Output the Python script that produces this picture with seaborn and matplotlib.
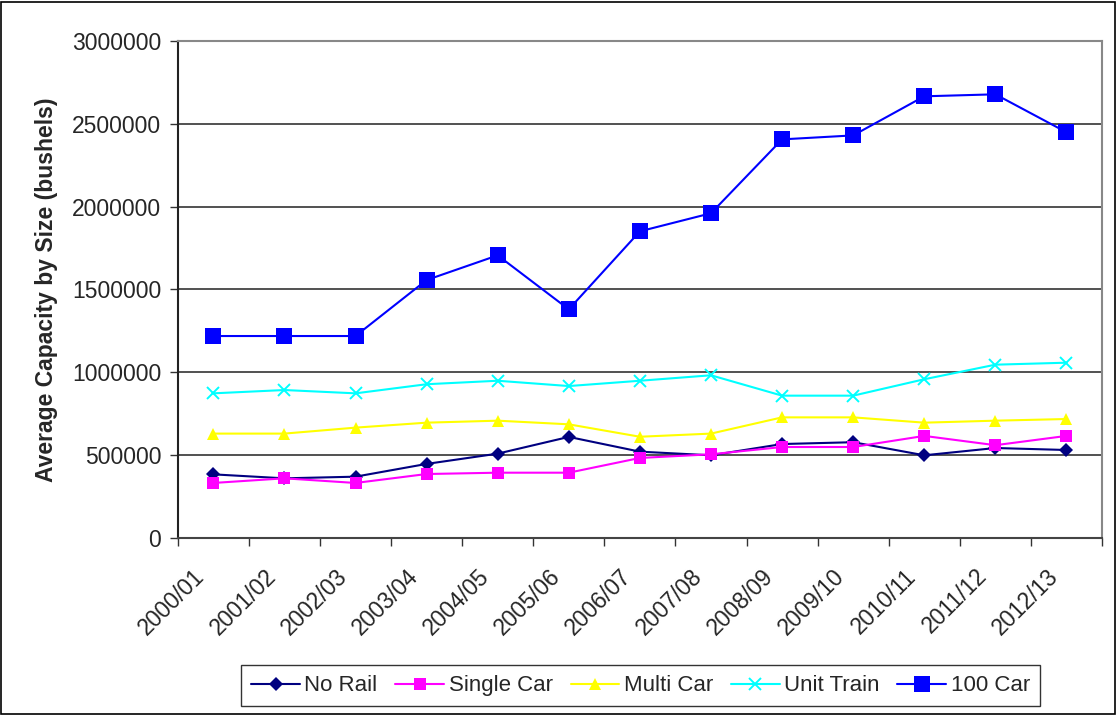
import matplotlib.pyplot as plt
import matplotlib.patches as mpatches
import seaborn as sns
import pandas as pd
from matplotlib.ticker import FixedLocator

years = ["2000/01", "2001/02", "2002/03", "2003/04", "2004/05", "2005/06", "2006/07",
         "2007/08", "2008/09", "2009/10", "2010/11", "2011/12", "2012/13"]

no_rail = [384000, 360000, 370000, 447000, 509000, 610000, 521000,
           499000, 567000, 578000, 499000, 543000, 531000]
single_car = [332000, 360000, 332000, 386000, 394000, 394000, 483000,
              505000, 549000, 549000, 616000, 560000, 616000]
multi_car = [630000, 630000, 666000, 696000, 708000, 686000, 611000,
             630000, 728000, 728000, 696000, 708000, 718000]
unit_train = [873000, 893000, 873000, 928000, 949000, 917000, 949000,
              982000, 859000, 859000, 958000, 1046000, 1058000]
car_100 = [1219000, 1219000, 1219000, 1557000, 1706000, 1380000, 1851000,
           1960000, 2406000, 2430000, 2666000, 2678000, 2449000]

series = {
    "No Rail": no_rail,
    "Single Car": single_car,
    "Multi Car": multi_car,
    "Unit Train": unit_train,
    "100 Car": car_100,
}

rows = []
for name, vals in series.items():
    for i, (yr, v) in enumerate(zip(years, vals)):
        rows.append({"pos": i, "Year": yr, "Series": name, "Capacity": v})
df = pd.DataFrame(rows)

sns.set_theme(style="white")
plt.rcParams['font.family'] = ['Liberation Sans', 'DejaVu Sans']

fig = plt.figure(figsize=(11.18, 7.15), dpi=100)
ax = fig.add_axes([0.159, 0.2476, 0.8267, 0.6951])

styles = {
    "No Rail": dict(color="#000080", marker="D", markersize=7),
    "Single Car": dict(color="#FF00FF", marker="s", markersize=8),
    "Multi Car": dict(color="#FFFF00", marker="^", markersize=9),
    "Unit Train": dict(color="#00FFFF", marker="x", markersize=9, markeredgewidth=1.4),
    "100 Car": dict(color="#0000FF", marker="s", markersize=12),
}

for name in series:
    st = styles[name]
    sns.lineplot(data=df[df["Series"] == name], x="pos", y="Capacity", ax=ax,
                 color=st["color"], marker=st["marker"], markersize=st["markersize"],
                 markeredgewidth=st.get("markeredgewidth", 0), markeredgecolor=st["color"],
                 linewidth=1.5, label=name, zorder=3)

ax.set_xlim(-0.5, len(years) - 0.5)
ax.set_ylim(0, 3000000)
ax.set_yticks(range(0, 3000001, 500000))
ax.set_yticklabels([str(v) for v in range(0, 3000001, 500000)], fontsize=16.5)
ax.yaxis.grid(True, color="#333333", linewidth=1.2)
ax.set_axisbelow(True)

# labels sit slightly left of the category centre, like the Excel original
ax.set_xticks([i - 0.17 for i in range(len(years))])
ax.set_xticklabels(years, rotation=45, ha="right", va="center", rotation_mode="anchor", fontsize=16.5)
ax.xaxis.set_minor_locator(FixedLocator([i - 0.5 for i in range(len(years) + 1)]))
ax.tick_params(axis="x", which="major", length=0, pad=25)
ax.tick_params(axis="x", which="minor", length=6, width=1, color="#333333", direction="out", bottom=True)
ax.tick_params(axis="y", length=6, width=1, color="#333333", direction="out", left=True, pad=6)

ax.set_xlabel("")
ax.set_ylabel("Average Capacity by Size (bushels)", fontsize=16.5, fontweight="bold", labelpad=10)

ax.spines["left"].set_color("#222222")
ax.spines["bottom"].set_color("#444444")
ax.spines["top"].set_color("#888888")
ax.spines["right"].set_color("#888888")
for s in ax.spines.values():
    s.set_linewidth(1.5)

ax.get_legend().remove()
handles, labels = ax.get_legend_handles_labels()
leg = fig.legend(handles, labels, loc="lower center", bbox_to_anchor=(0.573, 0.012), ncol=5,
                 fontsize=16, frameon=True, fancybox=False, edgecolor="black",
                 handlelength=2.2, columnspacing=0.8, handletextpad=0.2, borderpad=0.45,
                 borderaxespad=0)
leg.get_frame().set_linewidth(1.0)

fig.patches.append(mpatches.Rectangle((0.001, 0.002), 0.996, 0.995, transform=fig.transFigure,
                                      fill=False, edgecolor="black", linewidth=1.2))

fig.savefig("out.png", dpi=100)
